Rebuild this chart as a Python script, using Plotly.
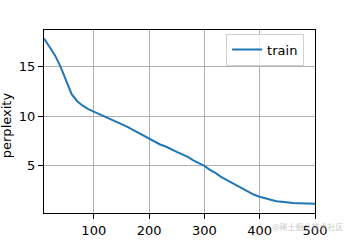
import plotly.graph_objects as go

epochs = list(range(10, 501, 10))
train_ppl = [17.8, 17.0, 16.1, 14.95, 13.5, 12.2, 11.5, 11.05, 10.7, 10.45,
             10.2, 9.95, 9.75, 9.5, 9.25, 8.95, 8.65, 8.35, 8.0, 7.7,
             7.4, 7.15, 6.95, 6.65, 6.4, 6.15, 5.9, 5.55, 5.3, 5.0,
             4.6, 4.3, 3.9, 3.6, 3.3, 3.0, 2.75, 2.4, 2.1, 1.9,
             1.75, 1.55, 1.45, 1.4, 1.3, 1.27, 1.25, 1.22, 1.2, 1.19]
x_ticks = [100, 200, 300, 400, 500]
y_ticks = [5, 10, 15]

FONT = "DejaVu Sans"

fig = go.Figure()
fig.add_trace(go.Scatter(x=epochs, y=train_ppl, mode="lines", name="train",
                         line=dict(color="#1f77b4", width=2)))

axis_common = dict(showline=True, linecolor="black", linewidth=1, mirror=True,
                   ticks="outside", ticklen=5, tickwidth=1, tickcolor="black",
                   showgrid=True, gridcolor="#b0b0b0", gridwidth=1,
                   zeroline=False, tickfont=dict(family=FONT, size=13, color="black"))

fig.update_layout(
    width=350, height=250,
    margin=dict(l=44, r=35, t=30, b=27),
    paper_bgcolor="white", plot_bgcolor="white",
    font=dict(family=FONT, size=13, color="black"),
    showlegend=True,
    legend=dict(x=0.672, y=0.98, xanchor="left", yanchor="top",
                bgcolor="rgba(255,255,255,0.8)", bordercolor="#d0d0d0", borderwidth=1,
                font=dict(family=FONT, size=13, color="black")),
    xaxis=dict(range=[10, 500], tickvals=x_ticks, **axis_common),
    yaxis=dict(range=[0.27, 18.65], tickvals=y_ticks, **axis_common),
    annotations=[
        dict(text="perplexity", textangle=-90, xref="paper", yref="paper",
             x=-0.14, y=0.48, xanchor="center", yanchor="middle", showarrow=False,
             font=dict(family=FONT, size=13, color="black")),
        dict(text="@稀土掘金技术社区", xref="paper", yref="paper",
             x=0.976, y=-0.073, xanchor="center", yanchor="middle", showarrow=False,
             font=dict(family="Noto Sans CJK SC", size=8, color="rgba(160,160,160,0.6)")),
    ],
)

fig.write_html("out.html")
